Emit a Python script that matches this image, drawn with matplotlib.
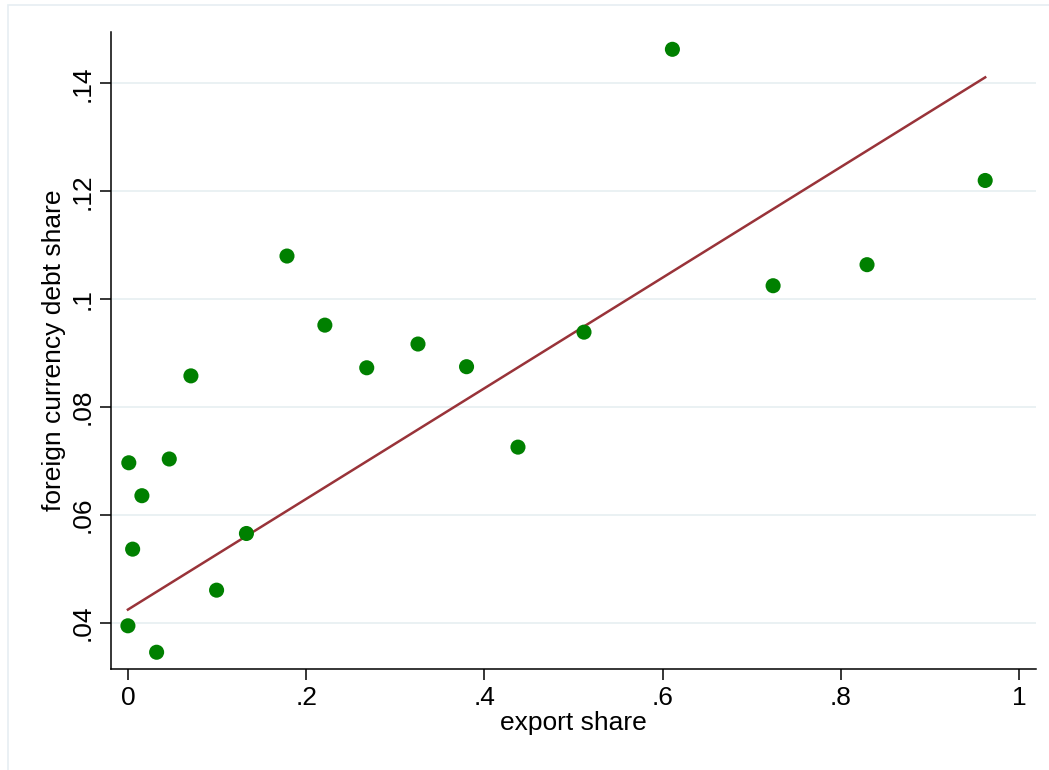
import numpy as np
import matplotlib.pyplot as plt
from matplotlib.patches import Rectangle

# export share vs. foreign currency debt share, one point per group
export_share = [0.001, 0.000, 0.0053, 0.0157, 0.0322, 0.0464, 0.0707, 0.0995,
                0.133, 0.1785, 0.221, 0.268, 0.3255, 0.380, 0.4377, 0.5118,
                0.611, 0.724, 0.8294, 0.962]
fx_debt_share = [0.0697, 0.0395, 0.0537, 0.0636, 0.0346, 0.0704, 0.0858, 0.0461,
                 0.0566, 0.1080, 0.0952, 0.0873, 0.0917, 0.0875, 0.0726, 0.0939,
                 0.1463, 0.1025, 0.1064, 0.1220]

# fitted line (estimated on the underlying firm-level data)
fit_intercept = 0.0425
fit_slope = 0.1025

x_ticks = [0, 0.2, 0.4, 0.6, 0.8, 1.0]
x_labels = ["0", ".2", ".4", ".6", ".8", "1"]
y_ticks = [0.04, 0.06, 0.08, 0.10, 0.12, 0.14]
y_labels = [".04", ".06", ".08", ".1", ".12", ".14"]

plt.rcParams['font.family'] = ['Liberation Sans', 'DejaVu Sans']

x = np.array(export_share)
y = np.array(fx_debt_share)

xf = np.array([x.min(), x.max()])
yf = fit_intercept + fit_slope * xf

fig = plt.figure(figsize=(10.49, 7.70), dpi=100)
ax = fig.add_axes([0.1058, 0.1312, 0.8818, 0.8272])

# light frame round the graph region
fig.patches.append(Rectangle((7.5 / 1049, -0.1), 1.2, 765 / 770 + 0.1,
                             transform=fig.transFigure, fill=False,
                             edgecolor='#e6eef2', lw=1.2))

ax.set_axisbelow(True)
ax.grid(axis='y', color='#eaf1f3', lw=1.4)
ax.plot(xf, yf, color='#993339', lw=1.8, zorder=2)
ax.scatter(x, y, s=118, color='#008000', edgecolors='none', zorder=3)

ax.set_xlim(-0.019, 1.019)
ax.set_ylim(0.0315, 0.1495)
ax.set_xticks(x_ticks)
ax.set_xticklabels(x_labels)
ax.set_yticks(y_ticks)
ax.set_yticklabels(y_labels, rotation=90, va='center')

for s in ['top', 'right']:
    ax.spines[s].set_visible(False)
for s in ['left', 'bottom']:
    ax.spines[s].set_linewidth(1.1)
ax.tick_params(length=8, width=1.1, labelsize=19, pad=4)

ax.set_xlabel("export share", fontsize=19, labelpad=1)
ax.set_ylabel("foreign currency debt share", fontsize=19, labelpad=3)

fig.savefig("out.png", dpi=100)
